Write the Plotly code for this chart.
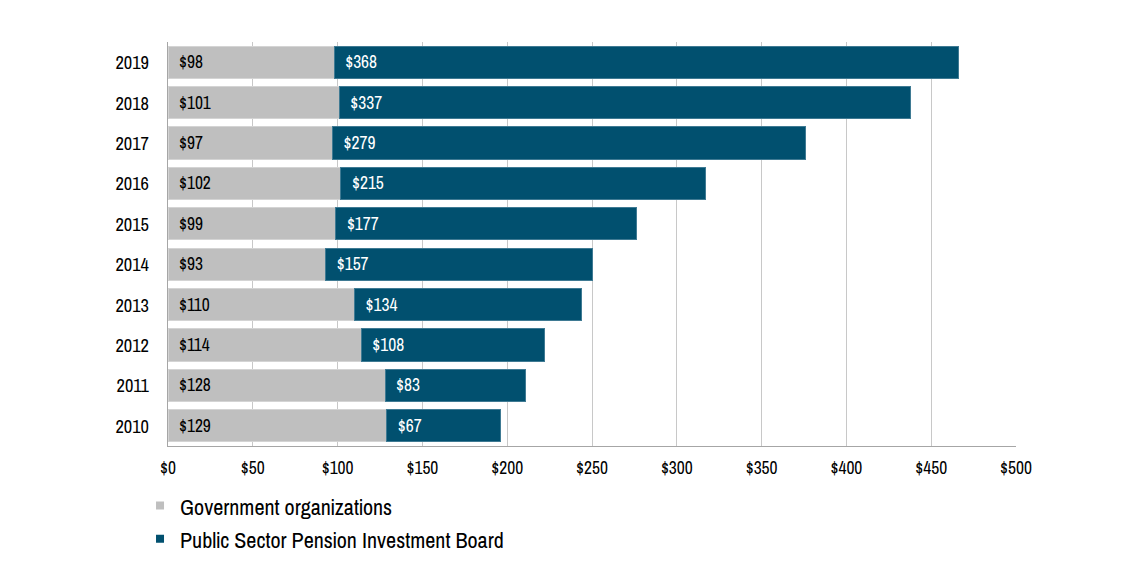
import plotly.graph_objects as go

years = ["2010", "2011", "2012", "2013", "2014", "2015", "2016", "2017", "2018", "2019"]
gov = [129, 128, 114, 110, 93, 99, 102, 97, 101, 98]
psp = [67, 83, 108, 134, 157, 177, 215, 279, 337, 368]
x_ticks = [0, 50, 100, 150, 200, 250, 300, 350, 400, 450, 500]
x_tick_labels = ["$" + str(v) for v in x_ticks]
series_names = ["Government organizations", "Public Sector Pension Investment Board"]
series_colors = ["#BFBFBF", "#01506F"]

FONT = "Pragati Narrow, Archivo Narrow, Liberation Sans, Arial, sans-serif"

fig = go.Figure()
for vals, name, color, txtcol, edge in [
    (gov, series_names[0], series_colors[0], "#000000", "#D4D4D4"),
    (psp, series_names[1], series_colors[1], "#FFFFFF", "#3F7A93"),
]:
    fig.add_trace(go.Bar(
        y=years, x=vals, orientation="h", name=name, showlegend=False,
        marker=dict(color=color, line=dict(color=edge, width=1)),
        text=["$" + str(v) for v in vals], textposition="inside", insidetextanchor="start",
        texttemplate="  %{text}", textangle=0, constraintext="none",
        textfont=dict(color=txtcol, size=19, family=FONT),
    ))

legend_ids = ["legend", "legend2"]
for name, color, lid in zip(series_names, series_colors, legend_ids):
    fig.add_trace(go.Scatter(
        x=[None], y=[None], mode="markers", name=name, legend=lid,
        marker=dict(symbol="square", size=8, color=color),
    ))

leg_common = dict(orientation="v", x=-0.033, xanchor="left", yanchor="middle",
                  font=dict(size=24, family=FONT), itemwidth=30,
                  bgcolor="rgba(0,0,0,0)")

fig.update_layout(
    barmode="stack", bargap=0.2,
    width=1140, height=570,
    margin=dict(l=160, r=132, t=34, b=132),
    plot_bgcolor="white", paper_bgcolor="white",
    font=dict(family=FONT, size=18, color="#000000"),
    xaxis=dict(range=[0, 500], tickvals=x_ticks, ticktext=x_tick_labels,
               showgrid=True, gridcolor="#C8C8C8", gridwidth=1,
               showline=True, linecolor="#A6A6A6", linewidth=1,
               zeroline=False, ticks="", tickfont=dict(size=19), ticklabelstandoff=4),
    yaxis=dict(showline=True, linecolor="#A6A6A6", linewidth=1, ticks="",
               ticklabelstandoff=14, tickfont=dict(size=20)),
    legend=dict(y=-0.1485, **leg_common),
    legend2=dict(y=-0.2305, **leg_common),
)

fig.write_html("out.html")
